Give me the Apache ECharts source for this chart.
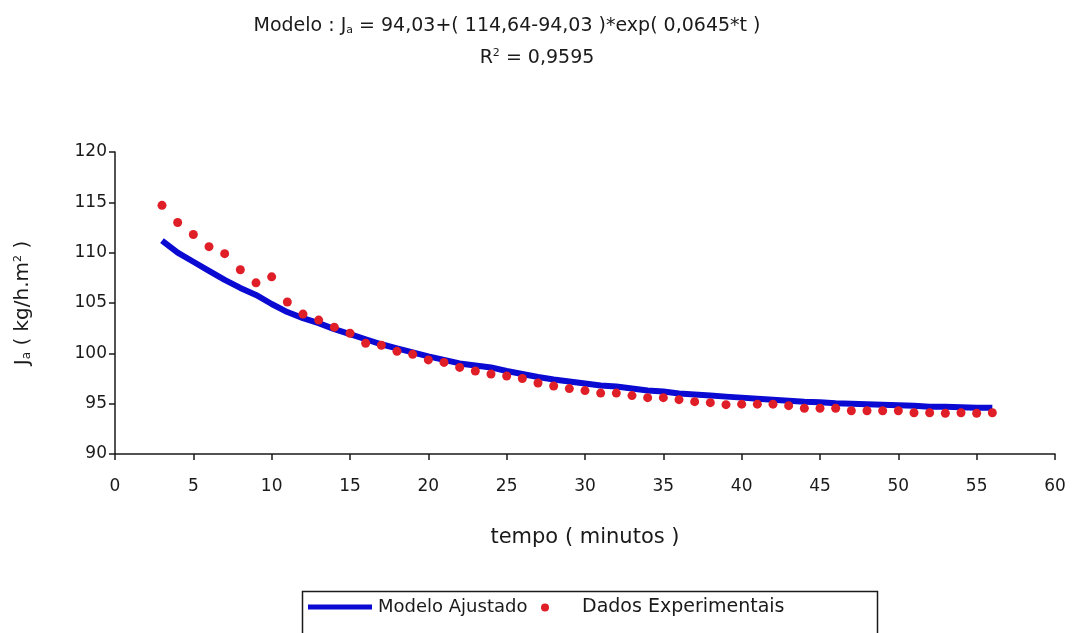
<!DOCTYPE html>
<html>
<head>
<meta charset="utf-8">
<script src="https://cdn.jsdelivr.net/npm/echarts@6/dist/echarts.min.js"></script>
<style>
  html, body { margin: 0; padding: 0; background: #fff; }
  #chart { width: 1074px; height: 633px; }
</style>
</head>
<body>
<div id="chart"></div>
<script>
// tempo (minutos) for each reading
const tempo = [3, 4, 5, 6, 7, 8, 9, 10, 11, 12, 13, 14, 15, 16, 17, 18, 19, 20, 21, 22,
  23, 24, 25, 26, 27, 28, 29, 30, 31, 32, 33, 34, 35, 36, 37, 38, 39, 40, 41, 42,
  43, 44, 45, 46, 47, 48, 49, 50, 51, 52, 53, 54, 55, 56];

const dadosExperimentais = [114.7, 113.0, 111.8, 110.6, 109.9, 108.3, 107.0, 107.6, 105.1, 103.9,
  103.3, 102.6, 102.0, 101.0, 100.8, 100.2, 99.9, 99.35, 99.1, 98.6,
  98.25, 97.95, 97.75, 97.5, 97.05, 96.75, 96.5, 96.3, 96.05, 96.05,
  95.8, 95.6, 95.6, 95.4, 95.2, 95.1, 94.9, 94.95, 94.95, 94.95,
  94.8, 94.55, 94.55, 94.55, 94.3, 94.3, 94.3, 94.3, 94.1, 94.1,
  94.05, 94.1, 94.05, 94.1];

// Modelo Ajustado
const modeloAjustado = [111.2, 110.0, 109.1, 108.2, 107.3, 106.5, 105.8, 104.9, 104.1, 103.5,
  103.0, 102.4, 101.9, 101.4, 100.9, 100.5, 100.1, 99.7, 99.35, 99.0,
  98.8, 98.6, 98.25, 97.95, 97.65, 97.4, 97.2, 97.0, 96.8, 96.7,
  96.5, 96.3, 96.2, 96.0, 95.9, 95.8, 95.7, 95.6, 95.5, 95.4,
  95.3, 95.2, 95.15, 95.05, 95.0, 94.95, 94.9, 94.85, 94.8, 94.7,
  94.7, 94.65, 94.6, 94.6];

const font = "'DejaVu Sans', 'Liberation Sans', sans-serif";
const ink = '#1a1a1a';

const chart = echarts.init(document.getElementById('chart'), null, { renderer: 'canvas' });

chart.setOption({
  animation: false,
  backgroundColor: '#fff',
  textStyle: { fontFamily: font, color: ink },
  title: [
    {
      text: 'Modelo : J{sub|a} = 94,03+( 114,64-94,03 )*exp( 0,0645*t )',
      left: 502, top: 11, textAlign: 'center',
      textStyle: {
        fontFamily: font, fontSize: 19, fontWeight: 'normal', color: ink,
        rich: { sub: { fontSize: 11, verticalAlign: 'bottom', padding: [9, 0, 0, 0], fontFamily: font, color: ink } }
      }
    },
    {
      text: 'R{sup|2} = 0,9595',
      left: 532, top: 43, textAlign: 'center',
      textStyle: {
        fontFamily: font, fontSize: 19, fontWeight: 'normal', color: ink,
        rich: { sup: { fontSize: 11, verticalAlign: 'top', padding: [0, 0, 9, 0], fontFamily: font, color: ink } }
      }
    }
  ],
  grid: { left: 115, right: 19, top: 152, bottom: 179, containLabel: false },
  xAxis: {
    type: 'value',
    min: 0, max: 60, interval: 5,
    name: 'tempo ( minutos )',
    nameLocation: 'middle',
    nameGap: 73,
    nameTextStyle: { fontFamily: font, fontSize: 21, color: ink },
    axisLine: { show: true, lineStyle: { color: ink, width: 1.5 } },
    axisTick: { show: true, length: 6, lineStyle: { color: ink, width: 1.5 } },
    axisLabel: { margin: 24, fontFamily: font, fontSize: 17, color: ink },
    splitLine: { show: false }
  },
  yAxis: {
    type: 'value',
    min: 90, max: 120, interval: 5,
    name: 'J{sub|a} ( kg/h.m{sup|2} )',
    nameLocation: 'middle',
    nameRotate: 90,
    nameGap: 82,
    nameTextStyle: {
      fontFamily: font, fontSize: 20, color: ink,
      rich: {
        sub: { fontSize: 12, padding: [9, 0, 0, 0], fontFamily: font, color: ink },
        sup: { fontSize: 11, padding: [0, 0, 9, 0], fontFamily: font, color: ink }
      }
    },
    axisLine: { show: true, lineStyle: { color: ink, width: 1.5 } },
    axisTick: { show: true, length: 6, lineStyle: { color: ink, width: 1.5 } },
    axisLabel: { margin: 8, fontFamily: font, fontSize: 17, color: ink },
    splitLine: { show: false }
  },
  legend: [
    {
      data: [{ name: 'Modelo Ajustado', icon: 'rect' }],
      left: 308, top: 598,
      itemWidth: 64, itemHeight: 5, itemGap: 0,
      padding: 0,
      textStyle: { fontFamily: font, fontSize: 18, color: ink, padding: [0, 0, 0, 1] }
    },
    {
      data: [{ name: 'Dados Experimentais', icon: 'circle' }],
      left: 541, top: 598,
      itemWidth: 8, itemHeight: 8, itemGap: 0,
      padding: 0,
      textStyle: { fontFamily: font, fontSize: 19, color: ink, padding: [0, 0, 0, 28] }
    }
  ],
  graphic: [
    {
      type: 'rect',
      left: 300, top: 589,
      shape: { width: 575, height: 60 },
      style: { fill: 'none', stroke: ink, lineWidth: 1.5 },
      silent: true, z: 0
    }
  ],
  series: [
    {
      name: 'Modelo Ajustado',
      type: 'line',
      data: tempo.map((t, i) => [t, modeloAjustado[i]]),
      showSymbol: false,
      symbol: 'none',
      lineStyle: { color: '#0a0ad2', width: 6 },
      itemStyle: { color: '#0a0ad2' },
      z: 2
    },
    {
      name: 'Dados Experimentais',
      type: 'scatter',
      data: tempo.map((t, i) => [t, dadosExperimentais[i]]),
      symbol: 'circle',
      symbolSize: 9,
      itemStyle: { color: '#e01e28', opacity: 1 },
      z: 3
    }
  ]
});
</script>
</body>
</html>
